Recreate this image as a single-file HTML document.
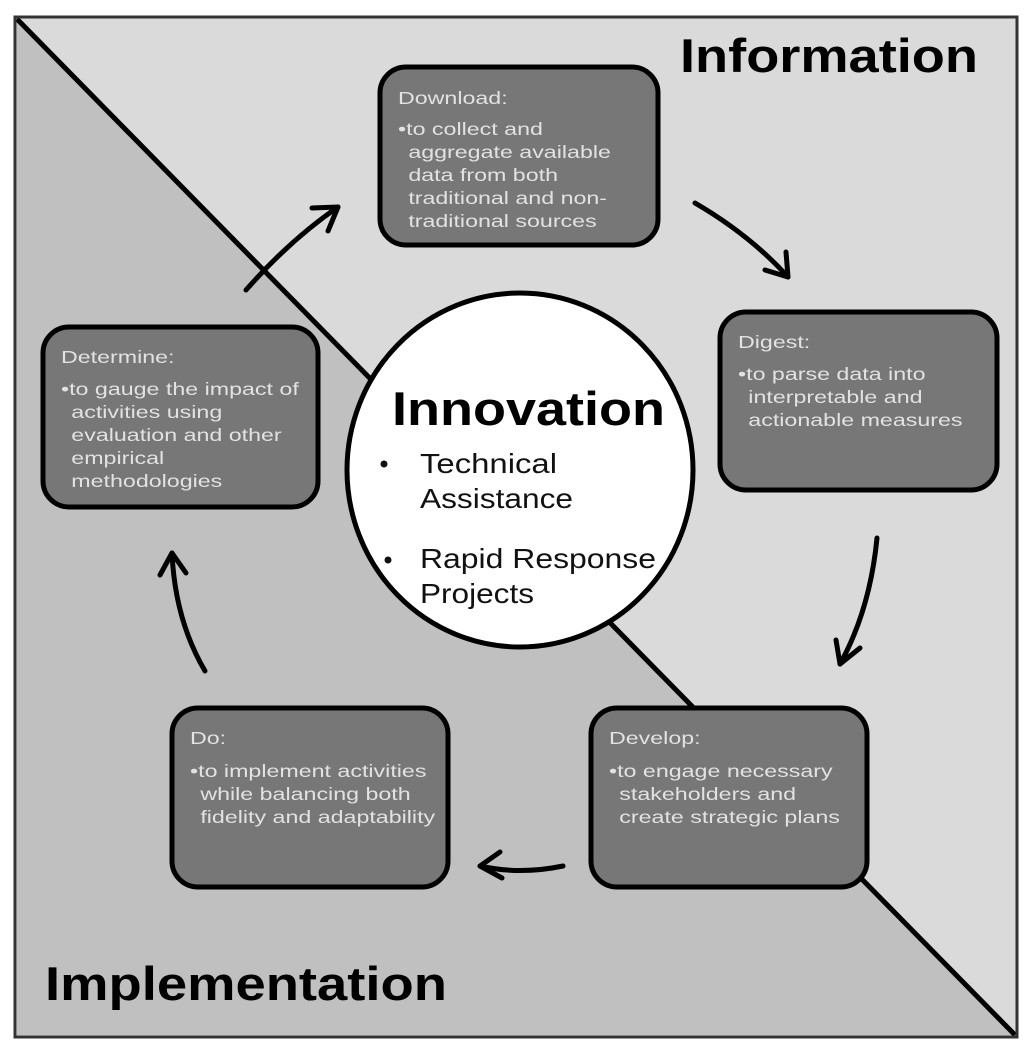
<!DOCTYPE html>
<html><head><style>
html,body{margin:0;padding:0;background:#fff;}
svg{display:block;}
text{font-family:"Liberation Sans",sans-serif;}
.bt{fill:#e2e2e2;font-size:18px;}
</style></head><body>
<svg width="1030" height="1050" viewBox="0 0 1030 1050" xmlns="http://www.w3.org/2000/svg">
<rect x="15" y="17" width="1002" height="1020" fill="#dadada" stroke="#333" stroke-width="3"/>
<polygon points="17,19 1015,1035 17,1035" fill="#c0c0c0"/>
<line x1="17" y1="19" x2="1015" y2="1035" stroke="#000" stroke-width="5"/>
<rect x="15" y="17" width="1002" height="1020" fill="none" stroke="#333" stroke-width="3"/>

<text x="680" y="72" font-size="47" font-weight="bold" fill="#000" textLength="298" lengthAdjust="spacingAndGlyphs">Information</text>
<text x="45" y="1000" font-size="47" font-weight="bold" fill="#000" textLength="402" lengthAdjust="spacingAndGlyphs">Implementation</text>

<g fill="#777" stroke="#000" stroke-width="5">
<rect x="380" y="67" width="278" height="178" rx="26"/>
<rect x="720" y="312" width="277" height="178" rx="26"/>
<rect x="591" y="708" width="276" height="179" rx="26"/>
<rect x="172" y="708" width="276" height="179" rx="26"/>
<rect x="43" y="327" width="275" height="180" rx="26"/>
</g>

<g fill="none" stroke="#000" stroke-width="5" stroke-linecap="round" stroke-linejoin="round">
<path d="M246,290 Q290,240 338,207"/><path d="M312,208 L338,207 L328,231"/>
<path d="M695,203 Q750,235 788,277"/><path d="M765,270 L788,277 L786,252"/>
<path d="M877,538 Q870,610 840,664"/><path d="M836,640 L840,664 L860,648"/>
<path d="M563,866 Q520,875 480,866"/><path d="M500,852 L480,866 L502,878"/>
<path d="M205,671 Q175,620 172,553"/><path d="M160,575 L172,553 L186,573"/>
</g>

<ellipse cx="520" cy="470" rx="173" ry="177" fill="#fff" stroke="#000" stroke-width="5"/>
<text x="392" y="425" font-size="47" font-weight="bold" fill="#000" textLength="273" lengthAdjust="spacingAndGlyphs">Innovation</text>
<g font-size="28" fill="#111">
<circle cx="384" cy="464" r="3.5"/><circle cx="388" cy="560" r="3.5"/>
<text x="420" y="473" textLength="137" lengthAdjust="spacingAndGlyphs">Technical</text>
<text x="420" y="508" textLength="153" lengthAdjust="spacingAndGlyphs">Assistance</text>
<text x="420" y="568" textLength="236" lengthAdjust="spacingAndGlyphs">Rapid Response</text>
<text x="420" y="603" textLength="114" lengthAdjust="spacingAndGlyphs">Projects</text>
</g>

<g class="bt">
<g transform="translate(398,0) scale(1.29,1) translate(-398,0)">
<text x="398" y="104">Download:</text>
<text x="398" y="135">•to collect and</text>
<text x="406" y="158">aggregate available</text>
<text x="406" y="181">data from both</text>
<text x="406" y="204">traditional and non-</text>
<text x="406" y="227">traditional sources</text>
</g>
<g transform="translate(738,0) scale(1.29,1) translate(-738,0)">
<text x="738" y="348">Digest:</text>
<text x="738" y="380">•to parse data into</text>
<text x="746" y="403">interpretable and</text>
<text x="746" y="426">actionable measures</text>
</g>
<g transform="translate(609,0) scale(1.29,1) translate(-609,0)">
<text x="609" y="744">Develop:</text>
<text x="609" y="777">•to engage necessary</text>
<text x="617" y="800">stakeholders and</text>
<text x="617" y="823">create strategic plans</text>
</g>
<g transform="translate(190,0) scale(1.29,1) translate(-190,0)">
<text x="190" y="744">Do:</text>
<text x="190" y="777">•to implement activities</text>
<text x="198" y="800">while balancing both</text>
<text x="198" y="823">fidelity and adaptability</text>
</g>
<g transform="translate(61,0) scale(1.29,1) translate(-61,0)">
<text x="61" y="363">Determine:</text>
<text x="61" y="395">•to gauge the impact of</text>
<text x="69" y="418">activities using</text>
<text x="69" y="441">evaluation and other</text>
<text x="69" y="464">empirical</text>
<text x="69" y="487">methodologies</text>
</g>
</g>
</svg>
</body></html>
